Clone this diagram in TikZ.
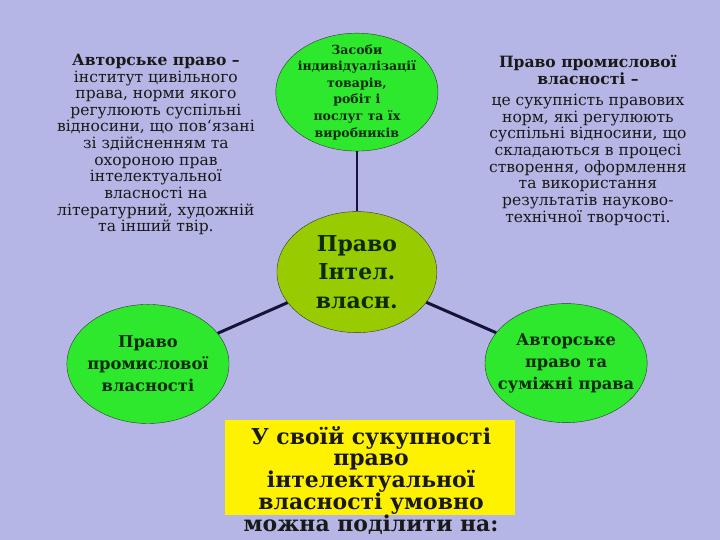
\documentclass[tikz,border=0pt]{standalone}
\usepackage{fontspec}
\setmainfont{DejaVu Serif}
\usetikzlibrary{shapes.geometric}
\definecolor{slidebg}{HTML}{B6B6E6}
\definecolor{leafgreen}{HTML}{2EE82E}
\definecolor{corelime}{HTML}{99CC00}
\definecolor{inkgreen}{HTML}{0C2A0C}
\definecolor{linkink}{HTML}{14143A}

\begin{document}
\begin{tikzpicture}[
  leaf/.style={ellipse, draw=black!80, fill=leafgreen, inner sep=0pt, minimum width=5.72cm, minimum height=4.2cm, align=center, text=inkgreen, font=\bfseries},
  core/.style={ellipse, draw=black!80, fill=corelime, inner sep=0pt, minimum width=5.64cm, minimum height=4.27cm, align=center, text=inkgreen, font=\bfseries\fontsize{22}{29}\selectfont},
  defn/.style={align=center, text=black!90, font=\fontsize{15.6}{16.7}\selectfont},
  link/.style={draw=linkink, line width=3pt}
]
\useasboundingbox (0,0) rectangle (25.4,19.05);
\fill[slidebg] (0,0) rectangle (25.4,19.05);

\node[defn] (authordef) at (5.50,13.95) {\textbf{Авторське право –}\\інститут цивільного\\права, норми якого\\регулюють суспільні\\відносини, що пов‘язані\\зі здійсненням та\\охороною прав\\інтелектуальної\\власності на\\літературний, художній\\та інший твір.};
\node[defn] (industrydef) at (20.74,14.10) {\textbf{Право промислової}\\\textbf{власності –}\\[5pt]це сукупність правових\\норм, які регулюють\\суспільні відносини, що\\складаються в процесі\\створення, оформлення\\та використання\\результатів науково-\\технічної творчості.};

\node[leaf, minimum height=4.16cm, inner ysep=-9pt, inner xsep=-3pt, font=\bfseries\fontsize{12.6}{16.6}\selectfont] (means) at (12.59,15.80) {Засоби\\індивідуалізації\\товарів,\\робіт і\\послуг та їх\\виробників};
\node[core] (ipright) at (12.59,9.45) {Право\\Інтел.\\власн.};
\node[leaf, inner xsep=-4pt, font=\bfseries\fontsize{16.4}{22}\selectfont] (industry) at (5.22,6.21) {Право\\промислової\\власності};
\node[leaf, inner xsep=-13pt, font=\bfseries\fontsize{16.3}{22}\selectfont] (copyright) at (19.97,6.24) {Авторське\\право та\\суміжні права};

\node[rectangle, fill=yellow, minimum width=10.23cm, minimum height=3.35cm] (summary) at (13.05,2.56) {};
\node[align=center, text=black!90, font=\bfseries\fontsize{22}{22}\selectfont] (summarytext) at (13.09,2.10) {У своїй сукупності\\право\\інтелектуальної\\власності умовно\\можна поділити на:};

\draw[link, line width=2pt] (means) -- (ipright);
\draw[link] (ipright) -- (industry);
\draw[link] (ipright) -- (copyright);
\end{tikzpicture}
\end{document}
